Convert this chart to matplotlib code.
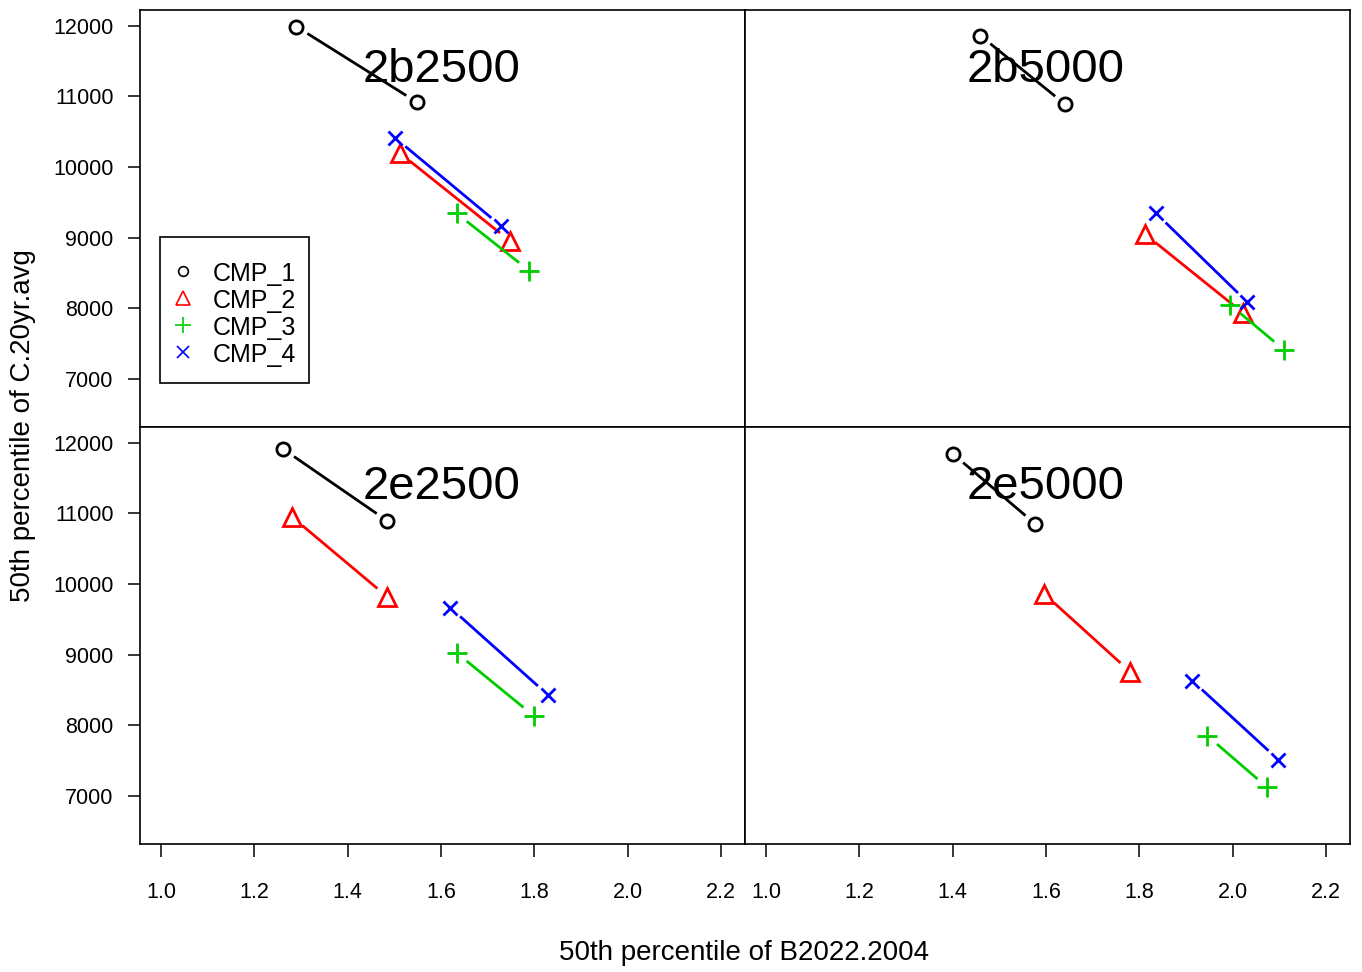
import matplotlib
matplotlib.use('Agg')
import matplotlib.pyplot as plt
from matplotlib.patches import Rectangle
import numpy as np

plt.rcParams['font.family'] = ['Liberation Sans', 'DejaVu Sans']

# 50th percentiles per scenario: (B2022.2004, C.20yr.avg), two points per CMP
panels = ['2b2500', '2b5000', '2e2500', '2e5000']
cmps = ['CMP_1', 'CMP_2', 'CMP_3', 'CMP_4']

b2022_2b2500 = [[1.290, 1.549], [1.511, 1.748], [1.633, 1.789], [1.502, 1.729]]
c20yr_2b2500 = [[11990, 10915], [10201, 8949], [9345, 8529], [10410, 9161]]

b2022_2b5000 = [[1.459, 1.641], [1.812, 2.022], [1.994, 2.110], [1.836, 2.031]]
c20yr_2b5000 = [[11863, 10887], [9048, 7931], [8048, 7407], [9341, 8086]]

b2022_2e2500 = [[1.262, 1.485], [1.281, 1.485], [1.633, 1.798], [1.620, 1.828]]
c20yr_2e2500 = [[11911, 10893], [10949, 9817], [9026, 8134], [9663, 8432]]

b2022_2e5000 = [[1.401, 1.577], [1.596, 1.780], [1.945, 2.074], [1.913, 2.097]]
c20yr_2e5000 = [[11840, 10850], [9860, 8757], [7851, 7116], [8630, 7512]]

xs = [b2022_2b2500, b2022_2b5000, b2022_2e2500, b2022_2e5000]
ys = [c20yr_2b2500, c20yr_2b5000, c20yr_2e2500, c20yr_2e5000]

colors = ['black', '#FF0000', '#00CD00', '#0000FF']
markers = ['o', '^', '+', 'x']
msizes = [9.5, 13, 14, 10]
leg_sizes = [7, 10.5, 11, 8.5]

xlim = (0.955, 2.251)
ylim = (6315, 12225)
xticks = [1.0, 1.2, 1.4, 1.6, 1.8, 2.0, 2.2]
yticks = [7000, 8000, 9000, 10000, 11000, 12000]

W, H = 1362, 972
fig = plt.figure(figsize=(W / 100, H / 100), dpi=100)

left, right, top, bottom = 140, 1350, 10, 844
pw = (right - left) / 2
ph = (bottom - top) / 2
gap = 13  # pixels left blank around each point (type="b" look)

axes = []
for i in range(4):
    r, c = divmod(i, 2)
    x0 = left + c * pw
    y0 = top + (r + 1) * ph
    ax = fig.add_axes([x0 / W, 1 - y0 / H, pw / W, ph / H])
    ax.set_xlim(*xlim)
    ax.set_ylim(*ylim)
    for s in ax.spines.values():
        s.set_linewidth(1.2)
    ax.set_xticks(xticks)
    ax.set_yticks(yticks)
    ax.set_xticklabels(['%.1f' % v for v in xticks])
    ax.set_yticklabels([str(v) for v in yticks])
    ax.tick_params(direction='out', length=9, width=1.1, labelsize=15.5)
    ax.tick_params(axis='x', pad=18)
    ax.tick_params(axis='y', pad=10)
    if c == 1:
        ax.tick_params(axis='y', left=False, labelleft=False)
    if r == 0:
        ax.tick_params(axis='x', bottom=False, labelbottom=False)
    axes.append(ax)

for i, ax in enumerate(axes):
    for k in range(4):
        px, py = xs[i][k], ys[i][k]
        pts = ax.transData.transform(np.column_stack([px, py]))
        d = pts[1] - pts[0]
        u = d / np.hypot(*d)
        seg = np.array([pts[0] + u * gap, pts[1] - u * gap])
        seg = ax.transData.inverted().transform(seg)
        ax.plot(seg[:, 0], seg[:, 1], color=colors[k], lw=2.0,
                solid_capstyle='butt')
        ax.plot(px, py, linestyle='none', marker=markers[k], ms=msizes[k],
                mec=colors[k], mfc='none', mew=2.0)
    ax.text(1.6, 11210, panels[i], ha='center', va='baseline', fontsize=34)

# legend box drawn by hand in the first panel (pixel layout -> axes fraction)
ax = axes[0]
def to_ax(px, py):
    return (px - left) / pw, 1 - (py - top) / ph

bx0, by0 = to_ax(160, 383)
bx1, by1 = to_ax(309, 237)
ax.add_patch(Rectangle((bx0, by0), bx1 - bx0, by1 - by0, transform=ax.transAxes,
                       facecolor='white', edgecolor='black', lw=1.2, zorder=5))
for k in range(4):
    mx, my = to_ax(183, 271 + 27 * k)
    tx, _ = to_ax(213, 0)
    ax.plot(mx, my, transform=ax.transAxes, linestyle='none', marker=markers[k],
            ms=leg_sizes[k], mec=colors[k], mfc='none', mew=1.2, zorder=6)
    ax.text(tx, my, cmps[k], transform=ax.transAxes, ha='left',
            va='center_baseline', fontsize=18, zorder=6)

fig.text(744 / W, 1 - 953 / H, '50th percentile of B2022.2004',
         ha='center', va='center', fontsize=20)
fig.text(23 / W, 1 - 426 / H, '50th percentile of C.20yr.avg',
         ha='center', va='center', rotation=90, fontsize=20)

fig.savefig('out.png', dpi=100)
